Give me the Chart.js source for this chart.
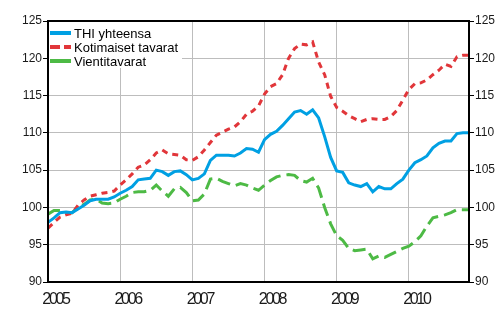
<!DOCTYPE html>
<html>
<head>
<meta charset="utf-8">
<script src="https://cdn.jsdelivr.net/npm/chart.js@4"></script>
<style>
  html, body { margin: 0; padding: 0; background: #fff; }
</style>
</head>
<body>
<canvas id="chart" width="500" height="330"></canvas>
<script>
// --Data-- //
const years = ['2005', '2006', '2007', '2008', '2009', '2010'];
const seriesNames = ['THI yhteensa', 'Kotimaiset tavarat', 'Vientitavarat'];

const thi = [
  98.0, 98.6, 99.3, 99.4, 99.3, 99.8, 100.3, 100.9, 101.1, 101.1, 101.1, 101.4,
  101.9, 102.3, 102.8, 103.7, 103.8, 103.9, 105.0, 104.8, 104.3, 104.8, 104.9, 104.4,
  103.7, 103.9, 104.5, 106.3, 107.0, 107.0, 107.0, 106.9, 107.3, 107.9, 107.8, 107.4,
  109.1, 109.8, 110.2, 111.0, 111.9, 112.8, 113.0, 112.5, 113.1, 112.0, 109.5, 106.7,
  104.9, 104.7, 103.3, 103.0, 102.8, 103.2, 102.1, 102.8, 102.5, 102.5, 103.2, 103.8,
  105.0, 106.0, 106.4, 106.9, 108.0, 108.6, 108.9, 108.9, 109.9, 110.0, 110.0
];
const kotimaiset = [
  97.2, 98.0, 98.7, 99.0, 99.2, 100.3, 101.0, 101.5, 101.7, 101.9, 102.0, 102.2,
  103.0, 103.7, 104.5, 105.4, 105.7, 106.4, 107.3, 107.7, 107.2, 107.1, 107.0, 106.4,
  106.3, 106.8, 107.7, 108.7, 109.7, 110.1, 110.5, 110.8, 111.5, 112.5, 112.9, 113.6,
  115.2, 116.2, 116.6, 117.8, 120.0, 121.3, 121.9, 121.8, 122.2, 119.5, 117.8, 114.9,
  113.4, 112.9, 112.3, 111.9, 111.5, 111.8, 111.9, 111.8, 111.8, 112.2, 113.0, 114.4,
  115.8, 116.6, 116.7, 117.1, 117.8, 118.4, 119.2, 118.9, 120.2, 120.4, 120.4
];
const vienti = [
  99.1, 99.6, 99.6, 99.3, 99.3, 100.0, 100.4, 101.0, 101.1, 100.6, 100.5, 100.6,
  101.1, 101.5, 102.0, 102.1, 102.1, 102.3, 103.0, 102.2, 101.5, 102.5, 102.7, 102.0,
  100.9, 101.0, 101.8, 103.8, 103.9, 103.5, 103.2, 102.9, 103.2, 103.0, 102.6, 102.3,
  103.0, 103.6, 104.1, 104.3, 104.4, 104.3, 103.6, 103.4, 103.9, 102.6, 100.0, 97.8,
  96.2, 95.6, 94.5, 94.2, 94.3, 94.4, 93.1, 93.5, 93.3, 93.7, 94.1, 94.5,
  94.8, 95.4, 96.2, 97.5, 98.6, 98.8, 99.0, 99.3, 99.7, 99.7, 99.7
];

// month labels, year shown on January only
const months = [];
years.forEach(y => {
  for (let m = 1; m <= 12; m++) months.push(y + '-' + m);
});
const labels = months.slice(0, thi.length);

const FONT = '"Liberation Sans", Arial, sans-serif';

// legend in the top left corner of the plot, on white
const boxLegend = {
  id: 'boxLegend',
  beforeDatasetsDraw(chart) {
    const { ctx, chartArea } = chart;
    ctx.save();
    ctx.fillStyle = '#fff';
    ctx.fillRect(chartArea.left, chartArea.top, 134, 47);
    ctx.font = '13px ' + FONT;
    ctx.textBaseline = 'middle';
    chart.data.datasets.forEach((ds, i) => {
      const y = chartArea.top + 12 + i * 14;
      ctx.strokeStyle = ds.borderColor;
      ctx.lineWidth = 4;
      ctx.setLineDash(ds.legendDash || []);
      ctx.beginPath();
      ctx.moveTo(chartArea.left + 2, y);
      ctx.lineTo(chartArea.left + 23, y);
      ctx.stroke();
      ctx.setLineDash([]);
      ctx.fillStyle = '#000';
      ctx.fillText(ds.label, chartArea.left + 26, y + 1);
    });
    ctx.restore();
  },
  afterDatasetsDraw(chart) {
    // year labels are narrow in the original
    chart.ctx.letterSpacing = '-2.3px';
  },
  afterDraw(chart) {
    const { ctx, chartArea } = chart;
    ctx.letterSpacing = '0px';
    ctx.save();
    ctx.strokeStyle = '#000';
    ctx.lineWidth = 2;
    ctx.strokeRect(chartArea.left, chartArea.top, chartArea.right - chartArea.left, chartArea.bottom - chartArea.top);
    ctx.restore();
  }
};

const yTickOpts = {
  stepSize: 5,
  color: '#1a1a1a',
  padding: 1,
  font: { family: FONT, size: 12 }
};

new Chart(document.getElementById('chart'), {
  type: 'line',
  data: {
    labels: labels,
    datasets: [
      {
        label: seriesNames[0],
        data: thi,
        borderColor: '#00A0E3',
        borderWidth: 3,
        pointRadius: 0,
        tension: 0
      },
      {
        label: seriesNames[1],
        data: kotimaiset,
        borderColor: '#E1363A',
        borderWidth: 3,
        borderDash: [6, 5],
        legendDash: [10, 4],
        pointRadius: 0,
        tension: 0
      },
      {
        label: seriesNames[2],
        data: vienti,
        borderColor: '#4DBA45',
        borderWidth: 3,
        borderDash: [13, 6],
        legendDash: [],
        pointRadius: 0,
        tension: 0
      }
    ]
  },
  options: {
    responsive: false,
    animation: false,
    devicePixelRatio: 1,
    layout: { padding: { top: 21, left: 0, right: 0, bottom: 0 } },
    plugins: {
      legend: { display: false },
      tooltip: { enabled: false }
    },
    scales: {
      x: {
        type: 'category',
        offset: false,
        border: { display: false },
        grid: { color: '#BDBDBD', lineWidth: 1, drawTicks: false },
        ticks: {
          autoSkip: false,
          maxRotation: 0,
          minRotation: 0,
          padding: 8,
          labelOffset: 7.5,
          z: 1,
          color: '#1a1a1a',
          font: { family: FONT, size: 16 },
          callback: function (value, index) {
            const lbl = this.getLabelForValue(value);
            return lbl.endsWith('-1') ? lbl.slice(0, 4) : null;
          }
        },
        afterFit: s => { s.height = 48; }
      },
      y: {
        position: 'left',
        min: 90,
        max: 125,
        border: { display: false },
        grid: { color: '#BDBDBD', lineWidth: 1, tickLength: 5, tickColor: '#000' },
        ticks: yTickOpts,
        afterFit: s => { s.width = 48; }
      },
      y2: {
        position: 'right',
        min: 90,
        max: 125,
        border: { display: false },
        grid: { drawOnChartArea: false, tickLength: 5, tickColor: '#000' },
        ticks: yTickOpts,
        afterFit: s => { s.width = 31; }
      }
    }
  },
  plugins: [boxLegend]
});
</script>
</body>
</html>
